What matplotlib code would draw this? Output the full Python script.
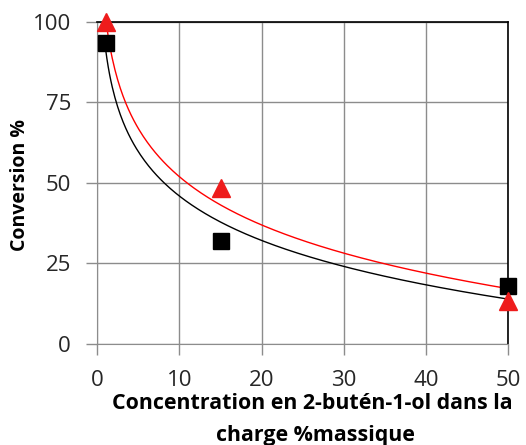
import numpy as np
import matplotlib
matplotlib.use("Agg")
import matplotlib.pyplot as plt

conc = [1, 15, 50]
conv_black = [93.5, 32, 18]
conv_red = [100, 48.5, 13.5]
xticks = [0, 10, 20, 30, 40, 50]
yticks = [0, 25, 50, 75, 100]

plt.rcParams['font.family'] = ['Open Sans', 'DejaVu Sans']

fig = plt.figure(figsize=(5.26, 4.45), dpi=100)
ax = fig.add_axes([0.185, 0.227, 0.781, 0.7236])

xs = np.linspace(1, 50, 300)
for ys, col in [(conv_black, 'black'), (conv_red, '#ff0000')]:
    b, a = np.polyfit(np.log(conc), ys, 1)
    ax.plot(xs, a + b * np.log(xs), color=col, lw=1.0, zorder=3)

ax.plot(conc, conv_black, 's', color='black', ms=11.5, zorder=4, clip_on=False)
ax.plot(conc, conv_red, '^', color='#ee1c1c', ms=12.5, zorder=5, clip_on=False)

ax.set_xlim(0, 50)
ax.set_ylim(0, 100)
ax.set_xticks(xticks)
ax.set_yticks(yticks)
ax.grid(True, color='#8c8c8c', lw=1.0, zorder=0)
ax.set_axisbelow(True)
for s in ['left', 'bottom']:
    ax.spines[s].set_color('#8c8c8c')
for s in ['top', 'right']:
    ax.spines[s].set_color('black')
    ax.spines[s].set_linewidth(1.2)
ax.tick_params(axis='both', colors='#8c8c8c', length=8, width=1.0, labelsize=16, labelcolor='#262626')
ax.tick_params(axis='x', pad=11)
ax.tick_params(axis='y', pad=11)

fig.text(0.038, 0.585, 'Conversion %', fontsize=14, fontweight='bold', rotation=90, ha='center', va='center', color='black')
fig.text(0.594, 0.094, 'Concentration en 2-butén-1-ol dans la', fontsize=15.4, fontweight='bold', ha='center', va='center', color='black')
fig.text(0.599, 0.022, 'charge %massique', fontsize=15.4, fontweight='bold', ha='center', va='center', color='black')

fig.savefig('out.png', dpi=100)
